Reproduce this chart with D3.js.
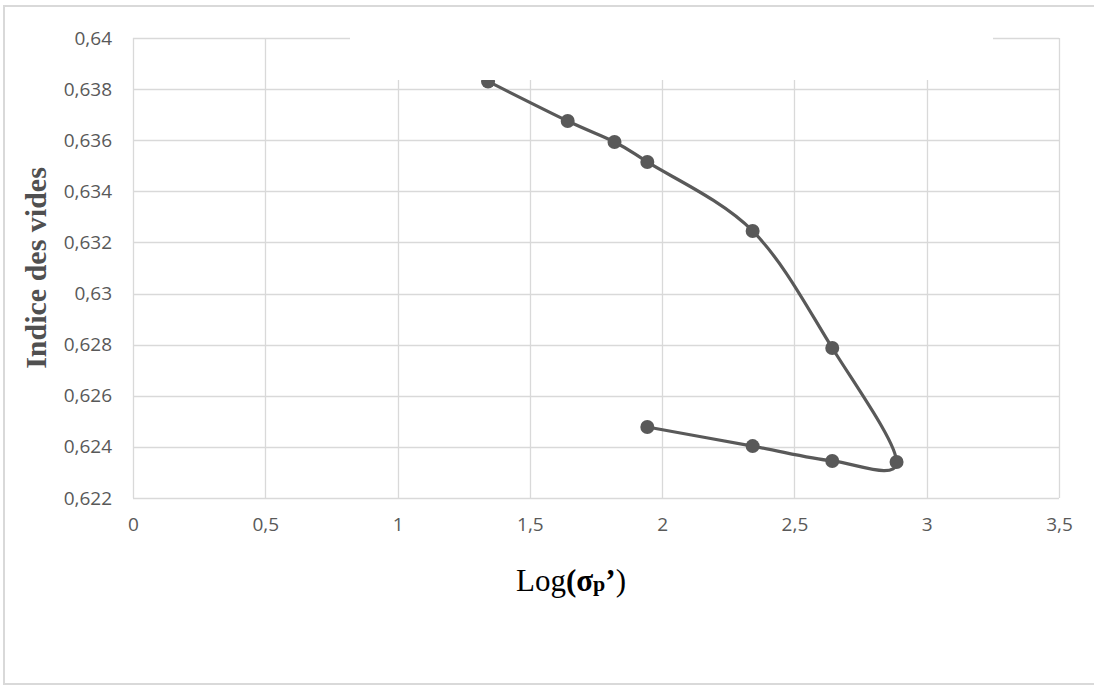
<!DOCTYPE html>
<html><head><meta charset="utf-8">
<script src="https://cdn.jsdelivr.net/npm/d3@7"></script>
<style>body{margin:0;background:#fff}svg{display:block}</style>
</head><body>
<svg id="c" width="1094" height="686"></svg>
<script>
const xValues = [1.342, 1.643, 1.820, 1.944, 2.342, 2.643, 2.886, 2.643, 2.342, 1.944];
const yValues = [0.6383, 0.63675, 0.63593, 0.63515, 0.63245, 0.62787, 0.62341, 0.62345, 0.62403, 0.62478];
const xTicks = [0, 0.5, 1, 1.5, 2, 2.5, 3, 3.5];
const yTicks = [0.622, 0.624, 0.626, 0.628, 0.63, 0.632, 0.634, 0.636, 0.638, 0.64];
const yTitle = "Indice des vides";

const svg = d3.select("#c");
const L = 133, R = 1059, T = 38, B = 498;
const x = d3.scaleLinear().domain([0, 3.5]).range([L, R]);
const y = d3.scaleLinear().domain([0.622, 0.64]).range([B, T]);
const fmt = v => d3.format("~g")(+v.toFixed(3)).replace(".", ",");
const grid = "#d9d9d9", txt = "#595959";

// outer frame
svg.append("path").attr("d", "M1100,6H4V684H1100").attr("fill", "none").attr("stroke", "#d9d9d9").attr("stroke-width", 2);

// gridlines
const g = svg.append("g");
g.selectAll(".hy").data(yTicks).join("line")
  .attr("x1", L).attr("x2", R).attr("y1", d => Math.round(y(d)) + 0.5).attr("y2", d => Math.round(y(d)) + 0.5)
  .attr("stroke", grid).attr("stroke-width", 1.3);
g.selectAll(".vx").data(xTicks).join("line")
  .attr("x1", d => Math.round(x(d)) + 0.5).attr("x2", d => Math.round(x(d)) + 0.5).attr("y1", T).attr("y2", B)
  .attr("stroke", grid).attr("stroke-width", 1.3);

// axes labels via d3 axes
const ax = svg.append("g").attr("transform", `translate(0,${B})`)
  .call(d3.axisBottom(x).tickValues(xTicks).tickFormat(fmt).tickSize(0).tickPadding(20));
const ay = svg.append("g").attr("transform", `translate(${L},0)`)
  .call(d3.axisLeft(y).tickValues(yTicks).tickFormat(fmt).tickSize(0).tickPadding(21));
[ax, ay].forEach(a => {
  a.select(".domain").remove();
  a.selectAll("text").attr("fill", txt).style("font-family", "'Open Sans', sans-serif").style("font-size", "19px");
});

// series
const pts = xValues.map((v, i) => [x(v), y(yValues[i])]);
svg.append("path").attr("d", d3.line().curve(d3.curveCardinal.tension(0))(pts))
  .attr("fill", "none").attr("stroke", "#595959").attr("stroke-width", 3.2);
svg.selectAll(".pt").data(pts).join("circle")
  .attr("cx", d => d[0]).attr("cy", d => d[1]).attr("r", 7).attr("fill", "#595959");

// blank title area covering top
svg.append("rect").attr("x", 350).attr("y", 20).attr("width", 643).attr("height", 60).attr("fill", "#fff");

// y title
svg.append("text").attr("transform", `translate(46,${(T + B) / 2}) rotate(-90)`)
  .attr("text-anchor", "middle").attr("font-family", "'Liberation Serif', serif")
  .attr("font-weight", "bold").attr("font-size", 30).attr("fill", "#505050").text(yTitle);

// x title
const xt = svg.append("text").attr("x", 571).attr("y", 591).attr("text-anchor", "middle")
  .attr("font-family", "'Liberation Serif', serif").attr("font-size", 31).attr("fill", "#000");
xt.append("tspan").text("Log");
xt.append("tspan").attr("font-weight", "bold").text("(σ");
xt.append("tspan").attr("font-weight", "bold").attr("font-size", 22).text("p");
xt.append("tspan").attr("font-weight", "bold").text("’");
xt.append("tspan").text(")");
</script>
</body></html>
